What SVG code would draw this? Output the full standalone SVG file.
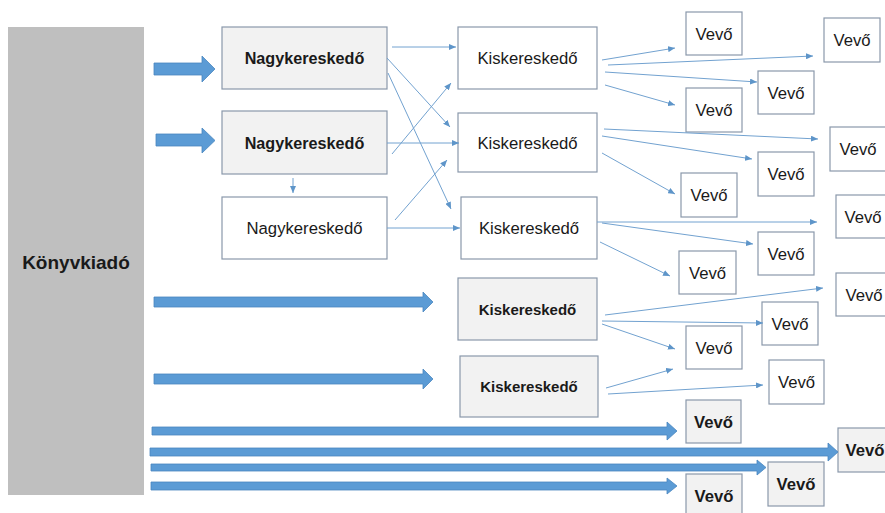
<svg xmlns="http://www.w3.org/2000/svg" width="885" height="513" viewBox="0 0 885 513">
<style>
  .t{font-family:"Liberation Sans",Arial,sans-serif;fill:#1a1a1a;text-anchor:middle}
  .b{font-weight:bold}
  .box{fill:#ffffff;stroke:#8a98ab;stroke-width:1.2}
  .gbox{fill:#f2f2f2;stroke:#8a98ab;stroke-width:1.2}
  .ln{stroke:#72a2d0;stroke-width:1;fill:none;marker-end:url(#ah)}
  .big{fill:#5b9bd5;stroke:#4a86bf;stroke-width:0.8}
</style>
<defs>
  <marker id="ah" markerUnits="userSpaceOnUse" markerWidth="8" markerHeight="6" refX="7" refY="3" orient="auto">
    <path d="M0,0 L7,3 L0,6 z" fill="#5e95c9"/>
  </marker>
</defs>
<rect width="885" height="513" fill="#ffffff"/>

<g id="konyvkiado">
  <rect x="8" y="27" width="136" height="468" fill="#bfbfbf"/>
  <text class="t b" x="76" y="269" font-size="19">Könyvkiadó</text>
</g>

<g id="nagy1"><rect class="gbox" x="222" y="27" width="165" height="62"/><text class="t b" x="304.5" y="64" font-size="16.2">Nagykereskedő</text></g>
<g id="nagy2"><rect class="gbox" x="222" y="111" width="165" height="63"/><text class="t b" x="304.5" y="148.5" font-size="16.2">Nagykereskedő</text></g>
<g id="nagy3"><rect class="box" x="222" y="197" width="165" height="62"/><text class="t" x="304.5" y="234" font-size="16.7">Nagykereskedő</text></g>

<g id="kisk1"><rect class="box" x="458" y="27" width="139" height="62"/><text class="t" x="527.5" y="64" font-size="16.7">Kiskereskedő</text></g>
<g id="kisk2"><rect class="box" x="458" y="113" width="139" height="59"/><text class="t" x="527.5" y="148.5" font-size="16.7">Kiskereskedő</text></g>
<g id="kisk3"><rect class="box" x="461" y="197" width="136" height="62"/><text class="t" x="529" y="234" font-size="16.7">Kiskereskedő</text></g>
<g id="kisk4"><rect class="gbox" x="458" y="278" width="139" height="62"/><text class="t b" x="527.5" y="315" font-size="15">Kiskereskedő</text></g>
<g id="kisk5"><rect class="gbox" x="460" y="356" width="138" height="61"/><text class="t b" x="529" y="392" font-size="15">Kiskereskedő</text></g>

<g id="v1"><rect class="box" x="686" y="12" width="56" height="43"/><text class="t" x="714" y="39.5" font-size="16.7">Vevő</text></g>
<g id="v2"><rect class="box" x="824" y="18" width="56" height="44"/><text class="t" x="852" y="46" font-size="16.7">Vevő</text></g>
<g id="v3"><rect class="box" x="758" y="71" width="56" height="43"/><text class="t" x="786" y="98.5" font-size="16.7">Vevő</text></g>
<g id="v4"><rect class="box" x="686" y="88" width="56" height="44"/><text class="t" x="714" y="116" font-size="16.7">Vevő</text></g>
<g id="v5"><rect class="box" x="830" y="127" width="58" height="44"/><text class="t" x="858" y="155" font-size="16.7">Vevő</text></g>
<g id="v6"><rect class="box" x="758" y="152" width="56" height="44"/><text class="t" x="786" y="180" font-size="16.7">Vevő</text></g>
<g id="v7"><rect class="box" x="681" y="173" width="56" height="44"/><text class="t" x="709" y="201" font-size="16.7">Vevő</text></g>
<g id="v8"><rect class="box" x="836" y="195" width="58" height="43"/><text class="t" x="863" y="222.5" font-size="16.7">Vevő</text></g>
<g id="v9"><rect class="box" x="758" y="232" width="56" height="43"/><text class="t" x="786" y="259.5" font-size="16.7">Vevő</text></g>
<g id="v10"><rect class="box" x="679" y="251" width="57" height="43"/><text class="t" x="707.5" y="278.5" font-size="16.7">Vevő</text></g>
<g id="v11"><rect class="box" x="836" y="273" width="58" height="43"/><text class="t" x="864" y="300.5" font-size="16.7">Vevő</text></g>
<g id="v12"><rect class="box" x="762" y="302" width="56" height="43"/><text class="t" x="790" y="329.5" font-size="16.7">Vevő</text></g>
<g id="v13"><rect class="box" x="686" y="326" width="56" height="43"/><text class="t" x="714" y="353.5" font-size="16.7">Vevő</text></g>
<g id="v14"><rect class="box" x="769" y="360" width="55" height="44"/><text class="t" x="796.5" y="388" font-size="16.7">Vevő</text></g>
<g id="v15"><rect class="gbox" x="686" y="400" width="55" height="43"/><text class="t b" x="713.5" y="427.5" font-size="16.7">Vevő</text></g>
<g id="v16"><rect class="gbox" x="838" y="428" width="58" height="44"/><text class="t b" x="865" y="456" font-size="16.7">Vevő</text></g>
<g id="v17"><rect class="gbox" x="768" y="462" width="56" height="44"/><text class="t b" x="796" y="490" font-size="16.7">Vevő</text></g>
<g id="v18"><rect class="gbox" x="686" y="474" width="56" height="44"/><text class="t b" x="714" y="502" font-size="16.7">Vevő</text></g>

<g id="connectors">
  <polygon class="big" points="154,63 202,63 202,56 215,69 202,82 202,75 154,75"/>
  <polygon class="big" points="156,134 202,134 202,128 215,140.5 202,153 202,146 156,146"/>
  <polygon class="big" points="154,297 423,297 423,292 433,302 423,312 423,307 154,307"/>
  <polygon class="big" points="154,374 423,374 423,369 433,379 423,389 423,384 154,384"/>
  <polygon class="big" points="152,427 667,427 667,422 677,431 667,440 667,435 152,435"/>
  <polygon class="big" points="150,448 828,448 828,443 838,452 828,461 828,456 150,456"/>
  <polygon class="big" points="151,464 757,464 757,460 766,467.5 757,475 757,471 151,471"/>
  <polygon class="big" points="151,482 667,482 667,478 677,486 667,494 667,490 151,490"/>

  <line class="ln" x1="293" y1="178" x2="293" y2="193"/>

  <line class="ln" x1="392" y1="47" x2="456" y2="47"/>
  <line class="ln" x1="387" y1="58" x2="450" y2="127"/>
  <line class="ln" x1="388" y1="73" x2="451" y2="209"/>
  <line class="ln" x1="392" y1="154" x2="451" y2="83"/>
  <line class="ln" x1="387" y1="143" x2="459" y2="143"/>
  <line class="ln" x1="395" y1="220" x2="447" y2="160"/>
  <line class="ln" x1="387" y1="228" x2="460" y2="228"/>

  <line class="ln" x1="602" y1="60" x2="675" y2="48"/>
  <line class="ln" x1="608" y1="65" x2="813" y2="56"/>
  <line class="ln" x1="605" y1="72" x2="757" y2="82"/>
  <line class="ln" x1="605" y1="85" x2="675" y2="105"/>

  <line class="ln" x1="604" y1="129" x2="818" y2="139"/>
  <line class="ln" x1="602" y1="136" x2="752" y2="159"/>
  <line class="ln" x1="602" y1="153" x2="675" y2="194"/>

  <line class="ln" x1="597" y1="222" x2="817" y2="222"/>
  <line class="ln" x1="602" y1="223" x2="753" y2="244"/>
  <line class="ln" x1="600" y1="242" x2="670" y2="276"/>

  <line class="ln" x1="605" y1="315" x2="823" y2="288"/>
  <line class="ln" x1="602" y1="321" x2="763" y2="323"/>
  <line class="ln" x1="602" y1="324" x2="675" y2="349"/>

  <line class="ln" x1="606" y1="388" x2="673" y2="369"/>
  <line class="ln" x1="608" y1="394" x2="763" y2="385"/>
</g>
</svg>
